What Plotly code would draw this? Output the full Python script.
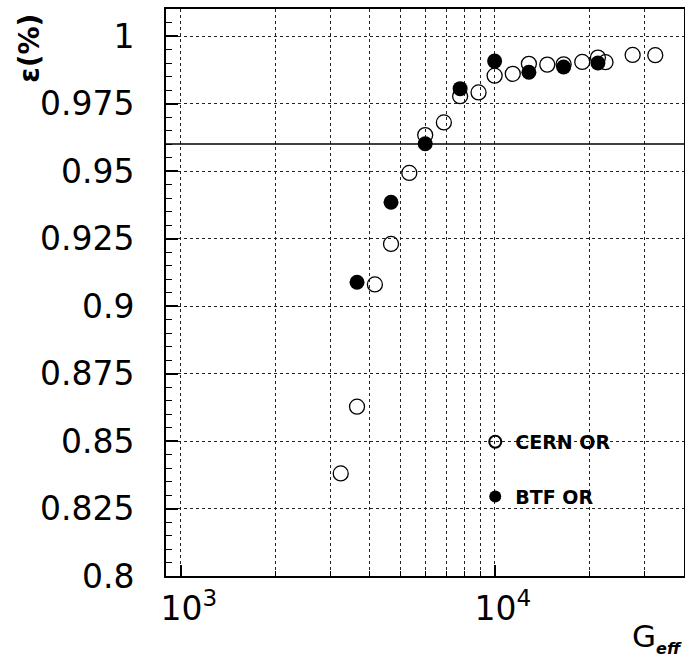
import plotly.graph_objects as go

# ---- data ----
cern_gain = [3230, 3640, 4150, 4670, 5340, 6000, 6880, 7750, 8870, 9980,
             11400, 12830, 14680, 16550, 18970, 21280, 22500, 27450, 32400]
cern_eff = [0.838, 0.8627, 0.908, 0.923, 0.9493, 0.9633, 0.968, 0.9777, 0.9791, 0.9853,
            0.986, 0.9897, 0.9894, 0.9895, 0.9904, 0.992, 0.9903, 0.993, 0.9929]

btf_gain = [3640, 4670, 6000, 7750, 9980, 12830, 16550, 21280]
btf_eff = [0.9088, 0.9384, 0.9601, 0.9805, 0.9907, 0.9866, 0.9885, 0.990]

series_names = ["CERN OR", "BTF OR"]

threshold = 0.96

y_tick_vals = [0.8, 0.825, 0.85, 0.875, 0.9, 0.925, 0.95, 0.975, 1.0]
y_tick_text = ["0.8", "0.825", "0.85", "0.875", "0.9", "0.925", "0.95", "0.975", "1"]
x_tick_vals = [1000, 10000]
x_tick_text = ["10<sup>3</sup>", "10<sup>4</sup>"]
x_minor_vals = [2000, 3000, 4000, 5000, 6000, 7000, 8000, 9000, 20000, 30000, 40000]

FONT = "DejaVu Sans"

fig = go.Figure()

fig.add_trace(go.Scatter(
    x=cern_gain, y=cern_eff, mode="markers", name=series_names[0],
    legendgroup="a",
    marker=dict(symbol="circle-open", size=15, color="black", line=dict(width=1.3, color="black")),
))
fig.add_trace(go.Scatter(
    x=btf_gain, y=btf_eff, mode="markers", name=series_names[1],
    legendgroup="b",
    marker=dict(symbol="circle", size=15, color="black"),
))

fig.add_shape(type="line", xref="paper", x0=0, x1=1, yref="y", y0=threshold, y1=threshold,
              line=dict(color="black", width=1.4))

grid = dict(showgrid=True, gridcolor="#222222", gridwidth=1, griddash="dot")

fig.update_xaxes(
    type="log", range=[2.953, 4.602], automargin=False,
    tickmode="array", tickvals=x_tick_vals, ticktext=x_tick_text,
    ticks="inside", ticklen=11, tickwidth=1.5, tickcolor="black",
    showline=True, linecolor="black", linewidth=1.8, mirror=True,
    tickfont=dict(family=FONT, size=33, color="black"),
    ticklabelstandoff=2, ticklabelshift=8,
    zeroline=False,
    minor=dict(tickmode="array", tickvals=x_minor_vals, ticks="inside", ticklen=5,
               tickwidth=1, tickcolor="black", **grid),
    **grid,
)
fig.update_yaxes(
    range=[0.8, 1.01], automargin=False,
    tickmode="array", tickvals=y_tick_vals, ticktext=y_tick_text,
    ticks="inside", ticklen=12, tickwidth=1.5, tickcolor="black",
    showline=True, linecolor="black", linewidth=1.8, mirror=True,
    tickfont=dict(family=FONT, size=33, color="black"),
    ticklabelstandoff=23,
    zeroline=False,
    minor=dict(tick0=0.8, dtick=0.005, ticks="inside", ticklen=6, tickwidth=1,
               tickcolor="black", showgrid=False),
    **grid,
)

fig.add_annotation(text="<b>ε(%)</b>", xref="paper", yref="paper",
                   x=-0.265, y=0.931, textangle=-90, showarrow=False,
                   xanchor="center", yanchor="middle",
                   font=dict(family=FONT, size=28, color="black"))
fig.add_annotation(text="G<sub><span style='font-size:16px'><b><i>eff</i></b></span></sub>",
                   xref="paper", yref="paper",
                   x=1.0, y=-0.148, showarrow=False, xanchor="right", yanchor="bottom",
                   font=dict(family=FONT, size=31, color="black"))

fig.update_layout(
    width=685, height=661,
    margin=dict(l=166, r=1, t=9, b=85),
    paper_bgcolor="white", plot_bgcolor="white",
    showlegend=True,
    legend=dict(x=0.597, y=0.270, xanchor="left", yanchor="top",
                bgcolor="rgba(0,0,0,0)", borderwidth=0,
                itemsizing="constant", traceorder="grouped", tracegroupgap=27,
                font=dict(family=FONT, size=19, color="black", weight="bold")),
)

fig.write_html("out.html", config={"displayModeBar": False},
               post_script="document.body.style.margin='0';document.body.style.padding='0';document.body.style.overflow='hidden';")
